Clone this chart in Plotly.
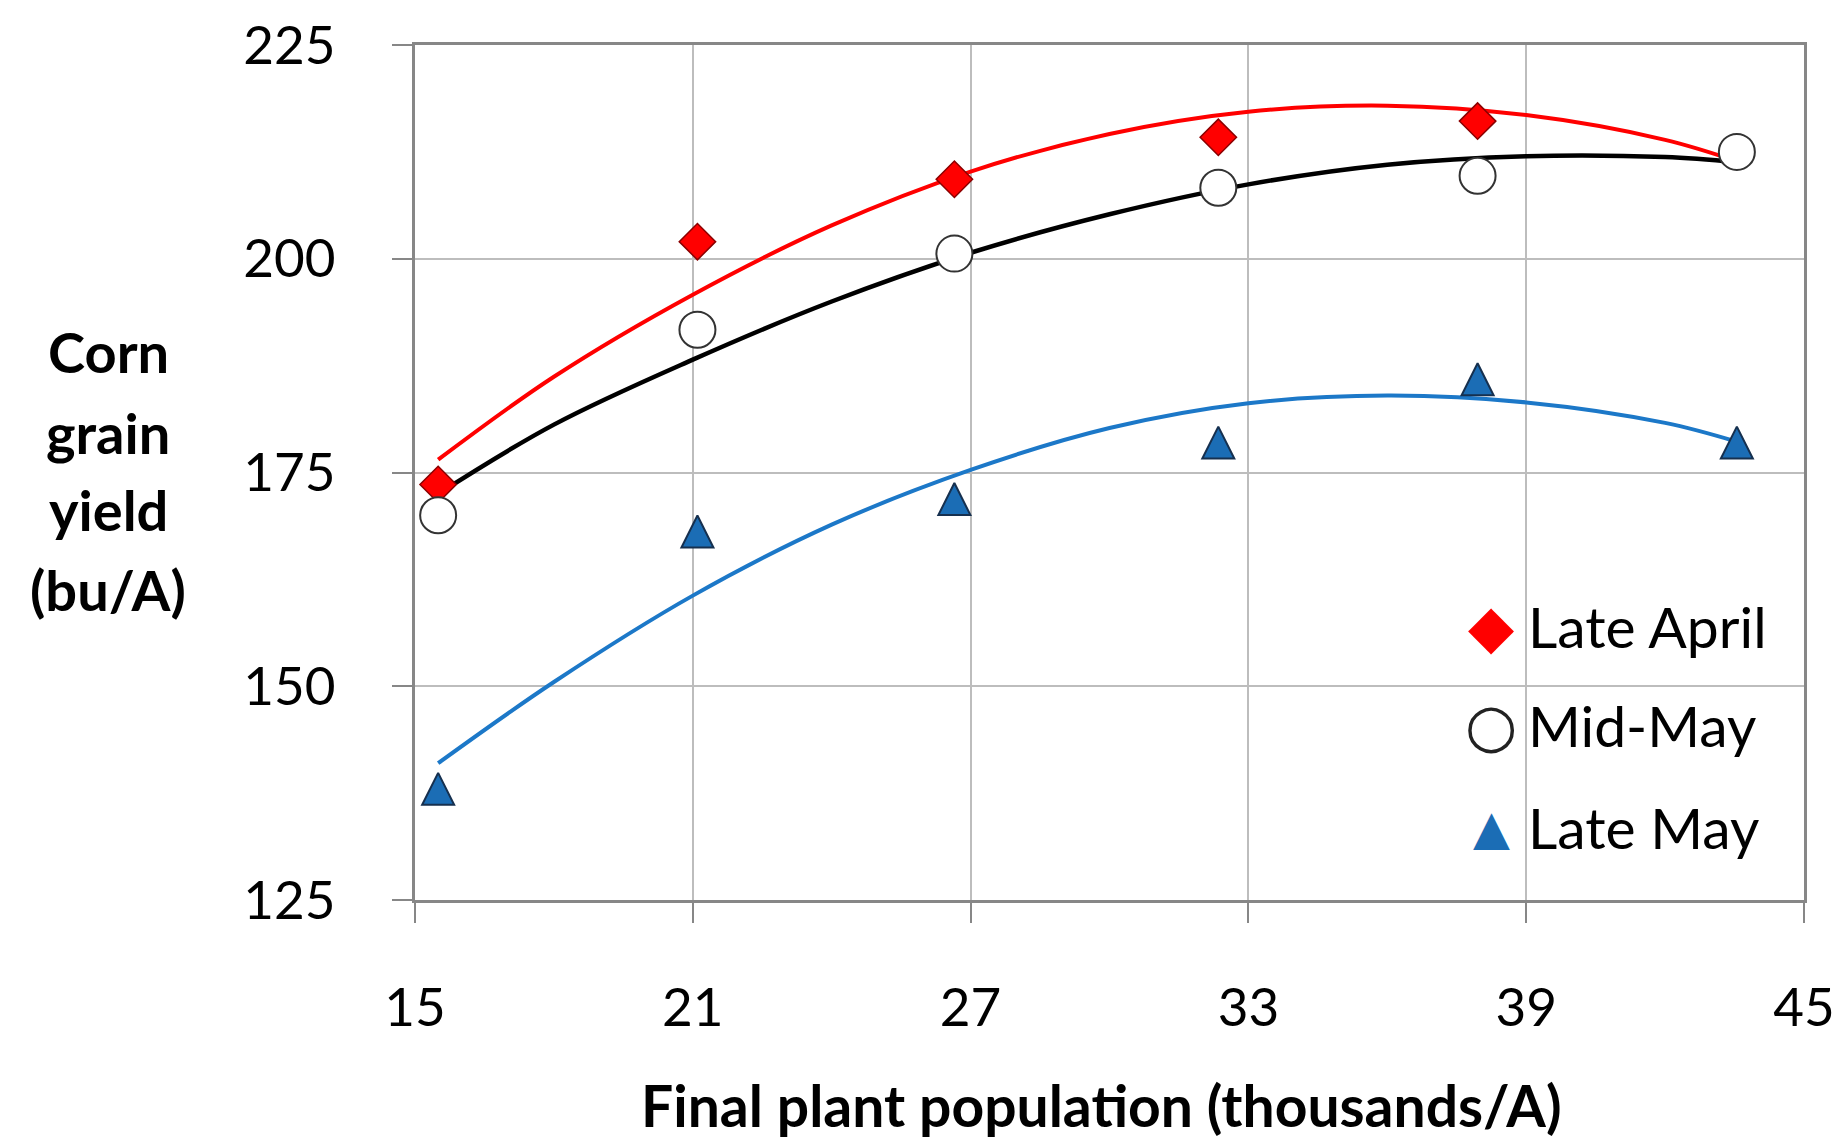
import plotly.graph_objects as go

# ---- data ----
population = [15.5, 21.1, 26.65, 32.35, 37.95, 43.55]
late_april = [173.6, 202.0, 209.3, 214.2, 216.1]
mid_may = [170.0, 191.7, 200.6, 208.3, 209.7, 212.5]
late_may = [138.0, 168.1, 171.9, 178.5, 185.9, 178.5]

# trend curves
trend_x = [15.5, 18, 21, 24, 27, 30, 33, 36, 39, 42, 43.55]
trend_late_april = [176.5, 186.2, 195.8, 203.9, 210.2, 214.6, 217.2, 217.9, 216.8, 213.9, 211.4]
trend_mid_may = [172.5, 180.6, 188.2, 195.0, 200.7, 205.2, 208.7, 211.0, 212.0, 211.9, 211.3]
trend_late_may = [141.0, 150.5, 160.6, 168.9, 175.3, 180.2, 183.1, 184.0, 183.2, 180.8, 178.6]

series_names = ["Late April", "Mid-May", "Late May"]
x_ticks = [15, 21, 27, 33, 39, 45]
y_ticks = [125, 150, 175, 200, 225]
y_title_lines = ["Corn", "grain", "yield", "(bu/A)"]
x_title = "Final plant population (thousands/A)"

RED = "#FF0000"
BLACK = "#000000"
BLUE_LINE = "#1C78C8"
BLUE_FILL = "#1B6DB5"
FONT = "Lato"

fig = go.Figure()

# trend lines
for ys, col, w in [(trend_late_april, RED, 4), (trend_mid_may, BLACK, 4.5), (trend_late_may, BLUE_LINE, 4)]:
    fig.add_trace(go.Scatter(x=trend_x, y=ys, mode="lines", line=dict(color=col, width=w, shape="spline"),
                             showlegend=False, hoverinfo="skip"))

# markers
fig.add_trace(go.Scatter(x=population[:len(late_april)], y=late_april, mode="markers", name=series_names[0],
                         marker=dict(symbol="diamond", size=28, color=RED, line=dict(color="#8B0000", width=1.5)),
                         showlegend=False))
fig.add_trace(go.Scatter(x=population, y=mid_may, mode="markers", name=series_names[1],
                         marker=dict(symbol="circle", size=36, color="white", line=dict(color="#333333", width=2)),
                         showlegend=False))
fig.add_trace(go.Scatter(x=population, y=late_may, mode="markers", name=series_names[2],
                         marker=dict(symbol="arrow-down", angle=180, size=32, standoff=16, color=BLUE_FILL,
                                     line=dict(color="#16304F", width=2)),
                         showlegend=False))

axis_common = dict(
    showgrid=True, gridcolor="#BDBDBD", gridwidth=2,
    showline=True, linecolor="#878787", linewidth=3, mirror=True,
    ticks="outside", ticklen=20, tickwidth=2, tickcolor="#878787",
    tickfont=dict(family=FONT, size=53, color="black"),
    zeroline=False, automargin=False,
)

fig.update_layout(
    width=1843, height=1140,
    margin=dict(l=407, r=47, t=37, b=248),
    paper_bgcolor="white", plot_bgcolor="white",
    xaxis=dict(range=[15, 45], tickvals=x_ticks, ticklabelstandoff=39, **axis_common),
    yaxis=dict(range=[125, 225], tickvals=y_ticks, ticklabelstandoff=46, **axis_common),
    showlegend=False,
)

# legend background box
fig.add_shape(type="rect", xref="paper", yref="paper", x0=0.7385, x1=0.9950, y0=0.0199, y1=0.3743,
              fillcolor="white", line=dict(width=0), layer="between")

# legend entries
legend_rows = [0.3205, 0.2047, 0.0854]
legend_syms = [("\u25C6", RED, 60), ("\u25CB", "#222222", 60), ("\u25B2", BLUE_FILL, 48)]
for (sym, col, sz), name, yy in zip(legend_syms, series_names, legend_rows):
    fig.add_annotation(x=0.7750, y=yy, xref="paper", yref="paper", text=sym, showarrow=False,
                       xanchor="center", yanchor="middle", font=dict(family="DejaVu Sans", size=sz, color=col))
    fig.add_annotation(x=0.8000, y=yy, xref="paper", yref="paper", text=name, showarrow=False,
                       xanchor="left", yanchor="middle", font=dict(family=FONT, size=57, color="black"))

# y-axis title (horizontal, 4 lines)
for line, yy in zip(y_title_lines, [0.6421, 0.5462, 0.4573, 0.3637]):
    fig.add_annotation(x=-0.2210, y=yy, xref="paper", yref="paper", text="<b>" + line + "</b>",
                       showarrow=False, xanchor="center", yanchor="middle",
                       font=dict(family=FONT, size=56, color="black"))

# x-axis title
fig.add_annotation(x=0.4939, y=-0.2398, xref="paper", yref="paper", text="<b>" + x_title + "</b>",
                   showarrow=False, xanchor="center", yanchor="middle",
                   font=dict(family=FONT, size=57, color="black"))

fig.write_html("out.html")
